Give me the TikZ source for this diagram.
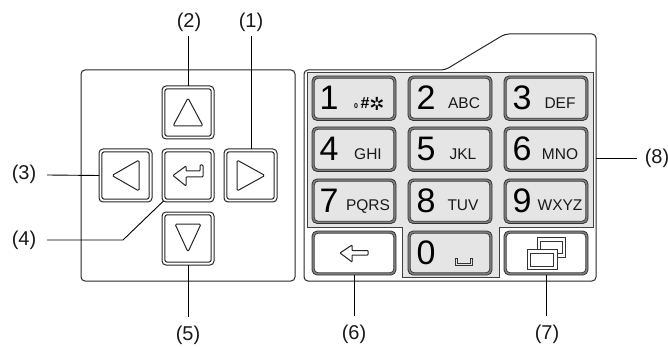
\documentclass[tikz,border=0pt]{standalone}
\usepackage{fontspec}
\setmainfont{Liberation Sans}
\newfontfamily\symfont{DejaVu Sans}
\begin{document}
\begin{tikzpicture}[x=1pt,y=-1pt,
  panel/.style={draw=black!85,line width=1pt,rounded corners=4pt},
  leader/.style={draw=black,line width=0.9pt},
  lbl/.style={font=\fontsize{20}{22}\selectfont,inner sep=0pt,text=black!90},
  glyph/.style={draw=black!85,line width=1pt,rounded corners=1.5pt,line join=round},
  dig/.style={font=\fontsize{34}{34}\selectfont,inner sep=0pt,anchor=base,text=black},
  sub/.style={font=\fontsize{15.5}{15.5}\selectfont,inner sep=0pt,anchor=base,text=black!90},
]
\useasboundingbox (0,0) rectangle (668,347);
\newcommand{\navkey}[5]{% name, x1,y1,x2,y2
  \draw[draw=black!85,line width=1pt,rounded corners=4pt,fill=white] (#2,#3) rectangle (#4,#5);
  \draw[draw=black!85,line width=1pt,rounded corners=2.5pt] (#2+2.8,#3+2.8) rectangle (#4-2.8,#5-2.8);
  \coordinate (#1) at ({(#2+#4)/2},{(#3+#5)/2});
  \coordinate (#1n) at ({(#2+#4)/2},#3);
  \coordinate (#1s) at ({(#2+#4)/2},#5);
  \coordinate (#1w) at (#2,{(#3+#5)/2});
  \coordinate (#1sw) at (#2+1.5,#5-1);
}
\newcommand{\padkey}[6]{% name,x1,y1,x2,y2,fill
  \draw[draw=black!80,line width=0.8pt,rounded corners=5pt,fill=black!50] (#2,#3) rectangle (#4,#5);
  \draw[draw=black!80,line width=0.7pt,rounded corners=4pt,fill=#6] (#2+2.2,#3+2.2) rectangle (#4-2.2,#5-2.2);
  \coordinate (#1s) at ({(#2+#4)/2},#5);
}
% panels
\draw[panel] (81,70) rectangle (295,281);
\draw[panel] (304,70) -- (445,70) -- (505,34) -- (596,34) -- (596,281) -- (304,281) -- cycle;
\draw[fill=black!10,draw=black!75,line width=0.9pt] (307,72) -- (593,72) -- (593,227) -- (499,227) -- (499,277) -- (402,277) -- (402,227) -- (307,227) -- cycle;
% nav keys
\navkey{up}{162}{86}{214}{139}
\navkey{lf}{99}{149}{152}{202}
\navkey{en}{162}{149}{214}{202}
\navkey{rt}{224}{149}{277}{202}
\navkey{dn}{162}{212}{214}{265}
\draw[glyph] (188,98) -- (173,126) -- (203,126) -- cycle;
\draw[glyph] (112,175.5) -- (139,160) -- (139,191) -- cycle;
\draw[glyph] (265,175.5) -- (237,160) -- (237,191) -- cycle;
\draw[glyph] (188,252) -- (175,224) -- (201,224) -- cycle;
\draw[glyph,rounded corners=0.8pt] (173,175.5) -- (186,166) -- (186,171) -- (200,171) -- (200,165) -- (203,165) -- (203,177) -- (186,177) -- (186,186) -- cycle;
% pad keys
\foreach \n/\x/\y in {a/312/76,b/408/76,c/504/76,d/312/127,e/408/127,f/504/127,g/312/179,h/408/179,i/504/179}{
  \pgfmathsetmacro{\xr}{\x+84}
  \pgfmathsetmacro{\yb}{\y+44.5}
  \padkey{k\n}{\x}{\y}{\xr}{\yb}{black!10}
}
\padkey{kj}{408}{231}{492}{275}{black!10}
\padkey{kb}{312}{231}{396}{275}{white}
\padkey{kw}{504}{231}{588}{275}{white}
% digits
\node[dig] at (329,110) {1};
\node[dig] at (426,110) {2};
\node[dig] at (522,110) {3};
\node[dig] at (329,161) {4};
\node[dig] at (426,161) {5};
\node[dig] at (522,161) {6};
\node[dig] at (329,212) {7};
\node[dig] at (426,212) {8};
\node[dig] at (522,212) {9};
\node[dig] at (426,264) {0};
% sub labels
\node[sub] at (464,109) {ABC};
\node[sub] at (560,109) {DEF};
\node[sub] at (368,160) {GHI};
\node[sub] at (463,160) {JKL};
\node[sub] at (560,160) {MNO};
\node[sub] at (368,211) {PQRS};
\node[sub] at (463,211) {TUV};
\node[sub] at (560,211) {WXYZ};
\node[inner sep=0pt,anchor=base,font=\fontsize{7}{7}\selectfont\bfseries] at (356,109) {0};
\node[inner sep=0pt,anchor=base,font=\fontsize{16}{16}\selectfont\bfseries] at (365,109) {\#};
\node[inner sep=0pt,font=\fontsize{18}{18}\symfont] at (377,104) {✲};
% space glyph
\draw[draw=black!80,line width=0.8pt] (455,258) -- (455,265.5) -- (472,265.5) -- (472,258) -- (470,258) -- (470,263) -- (457,263) -- (457,258) -- cycle;
% backspace
\draw[glyph,rounded corners=0.6pt] (340,253) -- (352,245) -- (352,250.5) -- (368,250.5) -- (368,255) -- (352,255) -- (352,262) -- cycle;
% window
\draw[draw=black!80,line width=0.8pt,fill=white] (537,237) rectangle (565,257);
\draw[draw=black!80,line width=0.8pt,fill=white] (540,241) rectangle (562,253);
\draw[draw=black!80,line width=0.8pt,fill=white] (527,249) rectangle (557,269);
\draw[draw=black!80,line width=0.8pt,fill=white] (530,253) rectangle (553,266);
% labels
\node[lbl] (l1) at (251,22) {(1)};
\node[lbl] (l2) at (189,22) {(2)};
\node[lbl] (l3) at (24,174) {(3)};
\node[lbl] (l4) at (24,240) {(4)};
\node[lbl] (l5) at (188,335) {(5)};
\node[lbl] (l6) at (354,334) {(6)};
\node[lbl] (l7) at (547,334) {(7)};
\node[lbl] (l8) at (657,158) {(8)};
\coordinate (c1) at (251,36);
\coordinate (c2) at (188,36);
\coordinate (c3) at (47,175);
\coordinate (c4a) at (47,240);
\coordinate (c4b) at (123,240);
\coordinate (c5) at (188,317);
\coordinate (c6) at (354,316);
\coordinate (c7) at (546,316);
\coordinate (c8) at (637,158);
\coordinate (c8b) at (596,158);
\coordinate (rtn) at (251,149);
\draw[leader] (c1) -- (rtn);
\draw[leader] (c2) -- (upn);
\draw[leader] (c3) -- (lfw);
\draw[leader] (c4a) -- (c4b) -- (ensw);
\draw[leader] (c5) -- (dns);
\draw[leader] (c6) -- (kbs);
\draw[leader] (c7) -- (kws);
\draw[leader] (c8) -- (c8b);
\end{tikzpicture}
\end{document}
